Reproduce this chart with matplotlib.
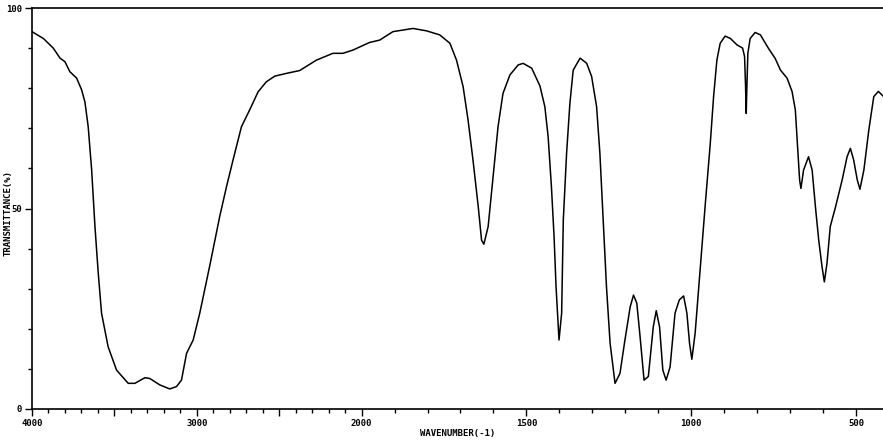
import numpy as np
import matplotlib
matplotlib.use("Agg")
import matplotlib.pyplot as plt
from matplotlib.ticker import FixedLocator, NullFormatter

# traced IR spectrum: wavenumber (cm-1) and transmittance (%)
wavenumber = [
    4000, 3931, 3871, 3830, 3800, 3770, 3729, 3699, 3679, 3659, 3638, 3618,
    3598, 3578, 3538, 3487, 3416, 3376, 3315, 3285, 3224, 3164, 3123, 3093,
    3062, 3022, 2982, 2920, 2861, 2820, 2780, 2729, 2679, 2628, 2578, 2527,
    2456, 2376, 2274, 2174, 2113, 2053, 1976, 1945, 1905, 1844, 1803, 1763,
    1732, 1712, 1692, 1677, 1662, 1646, 1636, 1629, 1616, 1601, 1586, 1571,
    1550, 1525, 1510, 1484, 1459, 1444, 1434, 1424, 1416, 1410, 1401, 1393,
    1388, 1378, 1368, 1358, 1337, 1317, 1302, 1287, 1277, 1267, 1257, 1246,
    1231, 1216, 1201, 1185, 1175, 1165, 1155, 1143, 1130, 1115, 1106, 1096,
    1086, 1076, 1064, 1049, 1036, 1023, 1013, 1005, 998, 988, 973, 957,
    942, 932, 922, 912, 897, 881, 861, 844, 838, 835, 833, 831, 828, 821,
    806, 790, 766, 745, 729, 709, 694, 684, 677, 671, 667, 659, 644, 633,
    623, 613, 603, 596, 588, 578, 562, 542, 527, 517, 507, 496, 488, 476,
    461, 446, 432, 416,
]
transmittance = [
    94.1, 92.4, 90.0, 87.5, 86.6, 84.1, 82.5, 79.6, 76.6, 70.4, 59.6, 45.5,
    33.9, 23.9, 15.5, 9.7, 6.4, 6.4, 7.8, 7.6, 6.0, 5.0, 5.6, 7.2,
    13.9, 17.2, 23.9, 36.0, 48.0, 55.4, 62.1, 70.4, 74.6, 79.1, 81.6, 83.0,
    83.7, 84.4, 87.0, 88.7, 88.7, 89.5, 91.4, 92.0, 94.1, 94.9, 94.3, 93.3,
    91.2, 87.0, 80.4, 72.1, 62.1, 50.4, 42.1, 41.1, 45.5, 57.9, 70.4, 78.7,
    83.3, 85.8, 86.2, 85.0, 80.6, 75.4, 67.9, 55.4, 43.0, 30.5, 17.2, 23.9,
    47.1, 63.8, 76.2, 84.5, 87.5, 86.2, 82.9, 75.4, 63.8, 47.1, 30.5, 16.4,
    6.4, 8.9, 17.2, 25.5, 28.4, 26.4, 18.0, 7.2, 8.1, 20.5, 24.5, 20.5,
    9.7, 7.2, 10.5, 23.9, 27.2, 28.2, 23.9, 16.4, 12.4, 18.9, 34.7, 51.3,
    66.3, 77.9, 87.0, 91.2, 93.0, 92.4, 90.8, 90.0, 87.9, 80.4, 73.7, 80.4, 88.7, 92.4,
    93.9, 93.3, 90.0, 87.4, 84.5, 82.5, 79.2, 74.6, 65.4, 57.1, 55.0, 59.6, 62.9, 59.6,
    50.4, 42.1, 35.5, 31.7, 36.3, 45.5, 50.4, 57.1, 62.9, 65.0, 62.1, 57.1, 54.8, 59.6,
    69.6, 77.9, 79.2, 77.9,
]

x_major = [4000, 3500, 3000, 2500, 2000, 1500, 1000, 500]
x_labels = {4000: "4000", 3000: "3000", 2000: "2000", 1500: "1500", 1000: "1000", 500: "500"}
y_labels = {0: "0", 50: "50", 100: "100"}


# chart is compressed 2x above 2000 cm-1
def fwd(x):
    x = np.asarray(x, dtype=float)
    return np.where(x >= 2000, (x - 2000) / 2.0, x - 2000)


def inv(u):
    u = np.asarray(u, dtype=float)
    return np.where(u >= 0, 2000 + 2.0 * u, 2000 + u)


font = dict(family="DejaVu Sans Mono", fontsize=6.5, fontweight="bold")

fig = plt.figure(figsize=(8.83, 4.43), dpi=100)
ax = fig.add_axes([32 / 883, 34 / 443, 851 / 883, 401 / 443])
ax.set_xscale("function", functions=(fwd, inv))
ax.plot(wavenumber, transmittance, color="black", lw=1.1)
ax.set_xlim(4000, 418)
ax.set_ylim(0, 100)

ax.spines["right"].set_visible(False)
for s in ["left", "bottom", "top"]:
    ax.spines[s].set_linewidth(1.2)

ax.xaxis.set_major_locator(FixedLocator(x_major))
ax.xaxis.set_minor_locator(FixedLocator(list(range(500, 4001, 100))))
ax.set_xticklabels([x_labels.get(v, "") for v in x_major], **font)
ax.yaxis.set_major_locator(FixedLocator([0, 50, 100]))
ax.yaxis.set_minor_locator(FixedLocator(list(range(0, 101, 10))))
ax.set_yticklabels([y_labels[v] for v in [0, 50, 100]], **font)
ax.xaxis.set_minor_formatter(NullFormatter())
ax.tick_params(axis="both", which="major", length=5, width=1, direction="out", pad=2)
ax.tick_params(axis="both", which="minor", length=3, width=1, direction="out")
ax.tick_params(top=False, right=False)

ax.set_xlabel("WAVENUMBER(-1)", labelpad=1, **font)
fig.text(0.004, 0.52, "TRANSMITTANCE(%)", rotation=90, va="center", ha="left", **font)

fig.savefig("out.png", dpi=100)
